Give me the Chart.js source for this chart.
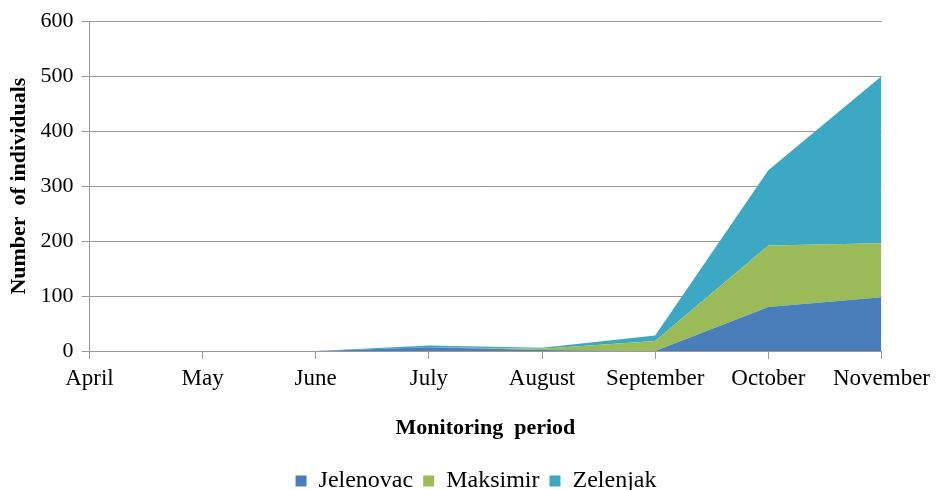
<!DOCTYPE html>
<html>
<head>
<meta charset="utf-8">
<script src="https://cdn.jsdelivr.net/npm/chart.js@4"></script>
<style>
  body { margin: 0; background: #fff; }
  #wrap { width: 936px; height: 490px; }
</style>
</head>
<body>
<div id="wrap"><canvas id="myChart"></canvas></div>
<script>
var months = ["April", "May", "June", "July", "August", "September", "October", "November"];
var jelenovac = [0, 0, 0, 7, 2, 0, 80, 98];
var maksimir = [0, 0, 0, 0, 2, 18, 112, 98];
var zelenjak = [0, 0, 0, 3, 2, 10, 137, 304];
var yTicks = [0, 100, 200, 300, 400, 500, 600];

var serif = "Liberation Serif";
Chart.defaults.font.family = serif;
Chart.defaults.color = '#000';

// push the legend a bit lower and to the right
var legendShift = {
    id: 'legendShift',
    afterLayout: function (chart) {
        chart.legend.top += 13;
        chart.legend.bottom += 13;
        chart.legend.left += 5;
        chart.legend.right += 5;
    }
};

var ctx = document.getElementById("myChart");
var myChart = new Chart(ctx, {
    type: 'line',
    data: {
        labels: months,
        datasets: [{
            label: 'Jelenovac',
            data: jelenovac,
            backgroundColor: '#4A7EBB',
            borderColor: '#4A7EBB',
            borderWidth: 0,
            pointRadius: 0,
            fill: 'origin'
        }, {
            label: 'Maksimir',
            data: maksimir,
            backgroundColor: '#9BBB59',
            borderColor: '#9BBB59',
            borderWidth: 0,
            pointRadius: 0,
            fill: '-1'
        }, {
            label: 'Zelenjak',
            data: zelenjak,
            backgroundColor: '#3CA8C4',
            borderColor: '#3CA8C4',
            borderWidth: 0,
            pointRadius: 0,
            fill: '-1'
        }]
    },
    options: {
        responsive: true,
        maintainAspectRatio: false,
        animation: false,
        layout: { padding: { left: 6, right: 0, top: 0, bottom: 0 } },
        scales: {
            x: {
                offset: false,
                grid: { drawOnChartArea: false, drawTicks: true, tickLength: 8, color: '#999' },
                border: { color: '#999' },
                ticks: { font: { family: serif, size: 23 }, padding: 6, maxRotation: 0, autoSkip: false },
                title: {
                    display: true,
                    text: 'Monitoring  period',
                    font: { family: serif, size: 22, weight: 'bold' },
                    padding: { top: 17, bottom: 4 }
                }
            },
            y: {
                stacked: true,
                min: 0,
                max: 600,
                afterBuildTicks: function (axis) {
                    axis.ticks = yTicks.map(function (v) { return { value: v }; });
                },
                grid: { color: '#999', tickLength: 8 },
                border: { color: '#999' },
                ticks: { font: { family: serif, size: 22 }, padding: 8 },
                title: {
                    display: true,
                    text: 'Number  of individuals',
                    font: { family: serif, size: 22, weight: 'bold' },
                    padding: { top: 0, bottom: 0 }
                }
            }
        },
        plugins: {
            legend: {
                position: 'bottom',
                labels: {
                    boxWidth: 11,
                    boxHeight: 11,
                    padding: 10,
                    color: '#000',
                    font: { family: serif, size: 24 }
                }
            },
            tooltip: { enabled: false }
        }
    },
    plugins: [legendShift]
});
</script>
</body>
</html>
